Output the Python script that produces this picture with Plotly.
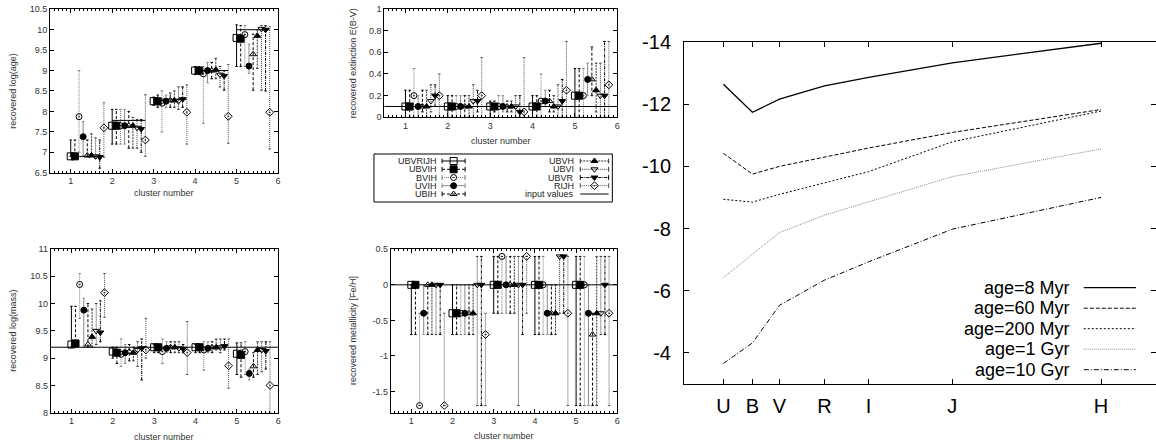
import plotly.graph_objects as go

# ---------------- data: left four panels ----------------
series = ["UBVRIJH", "UBVIH", "BVIH", "UVIH", "UBIH", "UBVH", "UBVI", "UBVR", "RIJH"]
clusters = [1, 2, 3, 4, 5]

# log(age): best value, upper and lower end of error bar (rows = series, cols = clusters)
age_best = [[6.90, 7.65, 8.25, 9.00, 9.80], [6.90, 7.65, 8.25, 9.00, 9.78], [7.87, 7.65, 8.20, 8.92, 9.88],
            [7.38, 7.65, 8.25, 9.00, 9.11], [6.92, 7.65, 8.27, 9.00, 9.40], [6.92, 7.65, 8.27, 9.02, 9.85],
            [6.90, 7.60, 8.25, 8.90, 10.02], [6.88, 7.57, 8.30, 8.87, 10.00], [7.60, 7.30, 7.98, 7.88, 7.98]]
age_hi = [[7.30, 8.05, 8.35, 9.10, 10.12], [7.30, 8.05, 8.40, 9.10, 10.10], [9.00, 8.05, 8.50, 9.10, 10.10],
          [7.75, 8.05, 8.40, 9.20, 9.65], [7.30, 8.00, 8.45, 9.20, 9.89], [7.45, 7.85, 8.50, 9.30, 10.00],
          [7.35, 7.80, 8.60, 9.10, 10.10], [7.30, 7.80, 8.60, 9.00, 10.10], [8.21, 8.41, 8.65, 9.15, 10.07]]
age_lo = [[6.90, 7.20, 8.15, 8.90, 9.10], [6.90, 7.20, 8.10, 8.90, 9.10], [7.00, 7.20, 7.50, 7.71, 9.10],
          [6.90, 7.20, 8.10, 8.70, 8.93], [6.90, 7.10, 8.10, 8.80, 8.52], [6.90, 7.10, 8.10, 8.80, 9.05],
          [6.85, 7.10, 8.05, 8.60, 8.52], [6.61, 7.00, 8.10, 8.52, 8.50], [6.88, 6.90, 7.20, 7.22, 7.08]]
age_input = [6.90, 7.78, 8.30, 9.00, 10.00]

# E(B-V)
ext_best = [[0.10, 0.10, 0.10, 0.10, 0.20], [0.10, 0.10, 0.10, 0.10, 0.20], [0.20, 0.10, 0.10, 0.15, 0.20],
            [0.10, 0.10, 0.10, 0.15, 0.35], [0.10, 0.10, 0.10, 0.15, 0.35], [0.10, 0.10, 0.10, 0.10, 0.25],
            [0.15, 0.15, 0.10, 0.10, 0.20], [0.20, 0.15, 0.05, 0.15, 0.20], [0.20, 0.20, 0.05, 0.25, 0.30]]
ext_hi = [[0.25, 0.20, 0.15, 0.20, 0.45], [0.25, 0.20, 0.15, 0.20, 0.45], [0.45, 0.20, 0.20, 0.40, 0.45],
          [0.20, 0.20, 0.20, 0.25, 0.50], [0.25, 0.20, 0.15, 0.25, 0.65], [0.25, 0.20, 0.15, 0.20, 0.50],
          [0.30, 0.30, 0.20, 0.30, 0.50], [0.30, 0.25, 0.20, 0.35, 0.70], [0.40, 0.55, 0.55, 0.70, 0.70]]
ext_lo = [[0.00, 0.00, 0.00, 0.00, 0.00], [0.00, 0.00, 0.05, 0.00, 0.00], [0.00, 0.00, 0.00, 0.00, 0.00],
          [0.00, 0.00, 0.05, 0.10, 0.20], [0.05, 0.00, 0.05, 0.05, 0.20], [0.00, 0.00, 0.05, 0.05, 0.05],
          [0.05, 0.00, 0.00, 0.00, 0.00], [0.10, 0.05, 0.00, 0.00, 0.00], [0.00, 0.00, 0.00, 0.00, 0.00]]
ext_input = 0.1

# log(mass)
mass_best = [[9.25, 9.12, 9.20, 9.20, 9.08], [9.27, 9.10, 9.20, 9.20, 9.06], [10.35, 9.07, 9.12, 9.15, 9.12],
             [9.88, 9.10, 9.18, 9.18, 8.72], [9.25, 9.12, 9.20, 9.20, 8.85], [9.39, 9.10, 9.20, 9.20, 9.15],
             [9.50, 9.15, 9.18, 9.20, 9.15], [9.47, 9.18, 9.17, 9.22, 9.13], [10.20, 9.15, 9.10, 8.86, 8.50]]
mass_hi = [[9.95, 9.20, 9.25, 9.25, 9.28], [9.95, 9.20, 9.25, 9.25, 9.28], [10.55, 9.35, 9.35, 9.30, 9.30],
           [10.10, 9.25, 9.30, 9.30, 8.80], [10.00, 9.25, 9.30, 9.30, 9.10], [9.90, 9.20, 9.30, 9.35, 9.30],
           [10.00, 9.30, 9.30, 9.35, 9.30], [10.05, 9.35, 9.25, 9.35, 9.30], [10.55, 9.73, 9.67, 9.35, 9.30]]
mass_lo = [[9.20, 9.00, 9.10, 9.10, 8.70], [9.20, 8.90, 9.10, 9.10, 8.65], [9.73, 8.85, 8.90, 8.78, 8.70],
           [9.20, 8.90, 9.10, 9.10, 8.60], [9.20, 8.95, 9.10, 9.10, 8.65], [9.20, 8.95, 9.10, 9.15, 8.70],
           [9.25, 8.85, 9.10, 9.10, 8.75], [9.30, 8.60, 9.10, 9.15, 8.80], [9.75, 9.00, 8.70, 8.45, 8.00]]
mass_input = 9.2

# [Fe/H]
met_best = [[0.0, -0.4, 0.0, 0.0, 0.0], [0.0, -0.4, 0.0, 0.0, 0.0], [-1.7, -0.4, 0.4, 0.0, 0.0],
            [-0.4, -0.4, 0.0, -0.4, -0.4], [0.0, -0.4, 0.0, -0.4, -0.7], [0.0, -0.4, 0.0, -0.4, -0.4],
            [0.0, 0.0, 0.0, 0.4, -0.4], [0.0, 0.0, 0.0, 0.4, 0.0], [-1.7, -0.7, 0.4, -0.4, -0.4]]
met_hi = [[0.0, 0.0, 0.4, 0.4, 0.4], [0.0, 0.0, 0.4, 0.4, 0.4], [-0.4, 0.0, 0.4, 0.4, 0.4],
          [0.0, 0.0, 0.4, 0.0, 0.0], [0.0, 0.0, 0.4, 0.0, -0.4], [0.0, 0.0, 0.4, 0.0, 0.4],
          [0.0, 0.4, 0.4, 0.4, 0.4], [0.0, 0.4, 0.4, 0.4, 0.4], [-0.4, -0.4, 0.4, 0.4, 0.4]]
met_lo = [[-0.7, -0.7, -0.4, -0.7, -1.7], [-0.7, -0.7, -0.4, -0.7, -1.7], [-1.7, -0.7, -0.4, -0.7, -1.7],
          [-0.7, -0.7, -0.4, -0.7, -1.7], [-0.7, -0.7, -0.4, -0.7, -1.7], [-0.7, -0.7, -0.4, -0.7, -1.7],
          [-0.7, -1.7, -1.7, -0.4, -0.7], [-0.7, -1.7, -0.7, -0.4, -0.7], [-1.7, -1.7, -0.4, -1.7, -1.7]]
met_input = 0.0

# ---------------- data: right panel ----------------
bands = ["U", "B", "V", "R", "I", "J", "H"]
band_pos = [0.0, 1.0, 1.93, 3.48, 5.0, 7.88, 13.0]
ages = ["age=8 Myr", "age=60 Myr", "age=200 Myr", "age=1 Gyr", "age=10 Gyr"]
mag_8myr = [-12.64, -11.74, -12.16, -12.59, -12.86, -13.33, -13.96]
mag_60myr = [-10.42, -9.75, -10.00, -10.31, -10.59, -11.09, -11.83]
mag_200myr = [-8.94, -8.85, -9.10, -9.47, -9.83, -10.79, -11.78]
mag_1gyr = [-6.42, -7.18, -7.87, -8.43, -8.86, -9.67, -10.56]
mag_10gyr = [-3.66, -4.32, -5.53, -6.34, -6.93, -7.98, -9.00]
mag_ticks = [-14, -12, -10, -8, -6, -4]
mag_ticktext = ["-14", "-12", "-10", "-8", "-6", "-4"]
met_ticks = [0.5, 0, -0.5, -1, -1.5]
met_ticktext = ["0.5", "0", "-0.5", "-1", "-1.5"]

# ---------------- styles ----------------
FONT = "Liberation Sans, Arial, sans-serif"
styles = {
    "UBVRIJH": dict(color="black", dash="solid", symbol="square-open", size=7),
    "UBVIH": dict(color="black", dash="3px,2px", symbol="square", size=7),
    "BVIH": dict(color="#777777", dash="1px,1px", symbol="circle-open-dot", size=6),
    "UVIH": dict(color="#888888", dash="solid", symbol="circle", size=6),
    "UBIH": dict(color="black", dash="3px,2px", symbol="triangle-up-open", size=6),
    "UBVH": dict(color="#333333", dash="2px,1px", symbol="triangle-up", size=6),
    "UBVI": dict(color="#333333", dash="1px,1px", symbol="triangle-down-open", size=6),
    "UBVR": dict(color="black", dash="3px,1px,1px,1px", symbol="triangle-down", size=6),
    "RIJH": dict(color="#555555", dash="1px,1px", symbol="diamond-open-dot", size=6),
}
age_styles = [
    dict(color="black", dash="solid", width=1.3),
    dict(color="black", dash="4px,2px", width=1),
    dict(color="black", dash="2px,2px", width=1),
    dict(color="#888888", dash="1px,1px", width=1),
    dict(color="black", dash="5px,2px,1px,2px", width=1),
]

fig = go.Figure()
CAP = 0.03


def add_panel(best, hi, lo, xa, ya):
    for s, name in enumerate(series):
        st = styles[name]
        bx, by, cx, cy, mx = [], [], [], [], []
        for c, cl in enumerate(clusters):
            x0 = cl + 0.1 * s
            mx.append(x0)
            bx += [x0, x0, None]
            by += [lo[s][c], hi[s][c], None]
            cx += [x0 - CAP, x0 + CAP, None, x0 - CAP, x0 + CAP, None]
            cy += [hi[s][c], hi[s][c], None, lo[s][c], lo[s][c], None]
        fig.add_trace(go.Scatter(x=bx, y=by, mode="lines", xaxis=xa, yaxis=ya, hoverinfo="skip",
                                 line=dict(color=st["color"], width=1, dash=st["dash"])))
        fig.add_trace(go.Scatter(x=cx, y=cy, mode="lines", xaxis=xa, yaxis=ya, hoverinfo="skip",
                                 line=dict(color=st["color"], width=1)))
        fig.add_trace(go.Scatter(x=mx, y=best[s], mode="markers", xaxis=xa, yaxis=ya, name=name,
                                 marker=dict(symbol=st["symbol"], size=st["size"], color="black",
                                             line=dict(color="black", width=1))))


add_panel(age_best, age_hi, age_lo, "x", "y")
ix, iy = [], []
for c, cl in enumerate(clusters):
    ix += [cl, cl + 0.8, None]
    iy += [age_input[c], age_input[c], None]
fig.add_trace(go.Scatter(x=ix, y=iy, mode="lines", xaxis="x", yaxis="y",
                         line=dict(color="black", width=1)))

add_panel(ext_best, ext_hi, ext_lo, "x2", "y2")
fig.add_trace(go.Scatter(x=[0.5, 6], y=[ext_input, ext_input], mode="lines", xaxis="x2", yaxis="y2",
                         line=dict(color="black", width=1)))
add_panel(mass_best, mass_hi, mass_lo, "x3", "y3")
fig.add_trace(go.Scatter(x=[0.5, 6], y=[mass_input, mass_input], mode="lines", xaxis="x3", yaxis="y3",
                         line=dict(color="black", width=1)))
add_panel(met_best, met_hi, met_lo, "x4", "y4")
fig.add_trace(go.Scatter(x=[0.5, 6], y=[met_input, met_input], mode="lines", xaxis="x4", yaxis="y4",
                         line=dict(color="black", width=1)))

# right panel lines
for name, mags, st in zip(ages, [mag_8myr, mag_60myr, mag_200myr, mag_1gyr, mag_10gyr], age_styles):
    fig.add_trace(go.Scatter(x=band_pos, y=mags, mode="lines", xaxis="x5", yaxis="y5", name=name,
                             line=st))

# ---------------- legend of left panels (drawn on helper axis 6) ----------------
leg_cols = [series[:5], series[5:] + ["input values"]]
leg_text_x = [0.269, 0.8445]
leg_line = [(0.2857, 0.3824), (0.8655, 0.9845)]
leg_rows = [0.854, 0.681, 0.51, 0.34, 0.167]
annotations = []
for ci, col in enumerate(leg_cols):
    for ri, name in enumerate(col):
        y0 = leg_rows[ri]
        x0, x1 = leg_line[ci]
        annotations.append(dict(x=leg_text_x[ci], y=y0, xref="x6", yref="y6", text=name, showarrow=False,
                                xanchor="right", yanchor="middle", borderpad=0,
                                font=dict(family=FONT, size=9, color="#222")))
        if name == "input values":
            fig.add_trace(go.Scatter(x=[x0, x1], y=[y0, y0], mode="lines", xaxis="x6", yaxis="y6",
                                     line=dict(color="black", width=1)))
            continue
        st = styles[name]
        fig.add_trace(go.Scatter(x=[x0, x1], y=[y0, y0], mode="lines", xaxis="x6", yaxis="y6",
                                 line=dict(color=st["color"], width=1, dash=st["dash"])))
        fig.add_trace(go.Scatter(x=[x0, x0, None, x1, x1], y=[y0 - 0.05, y0 + 0.05, None, y0 - 0.05, y0 + 0.05],
                                 mode="lines", xaxis="x6", yaxis="y6",
                                 line=dict(color=st["color"], width=1)))
        fig.add_trace(go.Scatter(x=[(x0 + x1) / 2], y=[y0], mode="markers", xaxis="x6", yaxis="y6",
                                 marker=dict(symbol=st["symbol"], size=st["size"], color="black",
                                             line=dict(color="black", width=1))))

# ---------------- legend of right panel ----------------
shapes = []
leg5_rows = [0.2816, 0.2216, 0.1617, 0.1018, 0.0418]
for name, st, yy in zip(ages, age_styles, leg5_rows):
    annotations.append(dict(x=0.8195, y=yy, xref="x5 domain", yref="y5 domain", text=name, showarrow=False,
                            xanchor="right", yanchor="middle", borderpad=0,
                            font=dict(family=FONT, size=18, color="black")))
    shapes.append(dict(type="line", xref="x5 domain", yref="y5 domain", x0=0.847, x1=0.9575, y0=yy, y1=yy,
                       line=dict(color=st["color"], width=st["width"], dash=st["dash"])))

shapes.append(dict(type="rect", xref="paper", yref="paper", x0=0.3235, x1=0.5297, y0=0.544, y1=0.6524,
                   line=dict(color="black", width=1)))


# axis titles
def title(text, x, y, angle=0):
    annotations.append(dict(x=x, y=y, xref="paper", yref="paper", text=text, showarrow=False,
                            textangle=angle, xanchor="center", yanchor="middle",
                            font=dict(family=FONT, size=9, color="#333")))


title("recovered log(age)", 0.011, 0.7946, -90)
title("cluster number", 0.1419, 0.5643)
title("recovered extinction E(B-V)", 0.3054, 0.8574, -90)
title("cluster number", 0.4332, 0.6817)
title("recovered log(mass)", 0.011, 0.253, -90)
title("cluster number", 0.1423, 0.0142)
title("recovered metallicity [Fe/H]", 0.3054, 0.2528, -90)
title("cluster number", 0.436, 0.0158)

small_x = dict(range=[0.5, 6], dtick=1, tick0=0, ticks="inside", ticklen=4, mirror="ticks", showline=True,
               linecolor="black", linewidth=1, tickcolor="black", showgrid=False, zeroline=False,
               automargin=False, tickfont=dict(family=FONT, size=9, color="#333"),
               minor=dict(ticks="inside", ticklen=2, dtick=0.1, tickcolor="black", showgrid=False))
small_y = dict(ticks="inside", ticklen=4, mirror="ticks", showline=True, linecolor="black", linewidth=1,
               tickcolor="black", showgrid=False, zeroline=False, automargin=False,
               tickfont=dict(family=FONT, size=9, color="#333"))

fig.update_layout(
    template="none",
    width=1156, height=443, margin=dict(l=0, r=0, t=0, b=0, autoexpand=False), showlegend=False,
    plot_bgcolor="white", paper_bgcolor="white",
    xaxis=dict(small_x, domain=[0.04325, 0.2405], anchor="y"),
    yaxis=dict(small_y, domain=[0.6102, 0.979], anchor="x", range=[6.5, 10.5], dtick=0.5),
    xaxis2=dict(small_x, domain=[0.3324, 0.534], anchor="y2"),
    yaxis2=dict(small_y, domain=[0.7352, 0.9797], anchor="x2", range=[0, 1], dtick=0.2),
    xaxis3=dict(small_x, domain=[0.04386, 0.2407], anchor="y3"),
    yaxis3=dict(small_y, domain=[0.0684, 0.4379], anchor="x3", range=[8, 11], dtick=0.5),
    xaxis4=dict(small_x, domain=[0.338, 0.534], anchor="y4"),
    yaxis4=dict(small_y, domain=[0.0684, 0.4372], anchor="x4", range=[-1.8, 0.5],
                tickvals=met_ticks, ticktext=met_ticktext),
    xaxis5=dict(domain=[0.5917, 1.0], anchor="y5", range=[-1.355, 14.89], tickvals=band_pos, ticktext=bands,
                ticks="inside", ticklen=5, mirror="ticks", showline=True, linecolor="black", linewidth=1,
                tickcolor="black", showgrid=False, zeroline=False, automargin=False, ticklabelstandoff=4,
                tickfont=dict(family=FONT, size=20, color="black")),
    yaxis5=dict(domain=[0.1332, 0.9052], anchor="x5", range=[-3, -14], tickvals=mag_ticks,
                ticktext=mag_ticktext, ticks="inside", ticklen=5, mirror="ticks", showline=True,
                linecolor="black", linewidth=1, tickcolor="black", showgrid=False, zeroline=False,
                automargin=False, ticklabelstandoff=8, tickfont=dict(family=FONT, size=20, color="black")),
    xaxis6=dict(domain=[0.3235, 0.5297], anchor="y6", range=[0, 1], visible=False, automargin=False),
    yaxis6=dict(domain=[0.544, 0.6524], anchor="x6", range=[0, 1], visible=False, automargin=False),
    annotations=annotations, shapes=shapes,
)

fig.write_html("out.html", config={"displayModeBar": False},
               post_script="document.body.style.margin='0px';document.body.style.overflow='hidden';")
